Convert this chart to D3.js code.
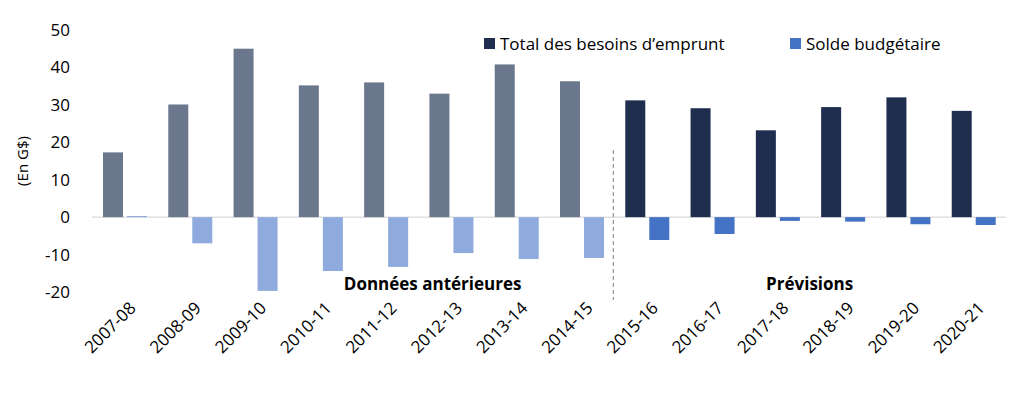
<!DOCTYPE html>
<html>
<head>
<meta charset="utf-8">
<script src="https://cdn.jsdelivr.net/npm/d3@7"></script>
<style>
  body { margin: 0; background: #fff; }
  text { font-family: "Open Sans", "Noto Sans", sans-serif; fill: #000; }
</style>
</head>
<body>
<script>
// years, values (G$)
var years = ["2007-08","2008-09","2009-10","2010-11","2011-12","2012-13","2013-14",
             "2014-15","2015-16","2016-17","2017-18","2018-19","2019-20","2020-21"];
var besoins = [17.3, 30.1, 45.0, 35.2, 36.0, 33.0, 40.8, 36.3, 31.2, 29.1, 23.2, 29.4, 32.0, 28.4];
var solde = [0.3, -7.0, -19.7, -14.4, -13.3, -9.6, -11.2, -10.9, -6.1, -4.5, -1.0, -1.2, -1.9, -2.1];
var nbHist = 8;
var yTicks = [-20, -10, 0, 10, 20, 30, 40, 50];

var W = 1021, H = 401;
var svg = d3.select("body").append("svg").attr("width", W).attr("height", H);

var x = d3.scaleBand().domain(years).range([92, 1006]);
var y = d3.scaleLinear().domain([-20, 50]).range([292, 30]);

// y axis labels
svg.selectAll(".yt").data(yTicks).enter().append("text")
  .attr("x", 70).attr("y", d => y(d)).attr("dy", "0.35em")
  .attr("text-anchor", "end").style("font-size", "17px").text(d => d);

svg.append("text").attr("transform", "translate(28," + y(15) + ") rotate(-90)")
  .attr("text-anchor", "middle").style("font-size", "15px").text("(En G$)");

// zero line
svg.append("line").attr("x1", 92).attr("x2", 1006)
  .attr("y1", y(0)).attr("y2", y(0)).attr("stroke", "#d0d0d0").attr("stroke-width", 1);

var bw = 20;
function col(i, s) {
  if (i < nbHist) return s ? "#8faadc" : "#6b778c";
  return s ? "#4472c4" : "#1f2e4e";
}

svg.selectAll(".b1").data(besoins).enter().append("rect")
  .attr("x", (d, i) => x(years[i]) + 11).attr("width", bw)
  .attr("y", d => y(Math.max(0, d))).attr("height", d => Math.abs(y(d) - y(0)))
  .attr("fill", (d, i) => col(i, false));

svg.selectAll(".b2").data(solde).enter().append("rect")
  .attr("x", (d, i) => x(years[i]) + 35).attr("width", bw)
  .attr("y", d => y(Math.max(0, d))).attr("height", d => Math.abs(y(d) - y(0)))
  .attr("fill", (d, i) => col(i, true));

// dashed separator
var sepX = x(years[nbHist]) - 1;
svg.append("line").attr("x1", sepX).attr("x2", sepX).attr("y1", 150).attr("y2", 300)
  .attr("stroke", "#7f7f7f").attr("stroke-dasharray", "4,3");

svg.append("text").attr("x", (92 + sepX) / 2 + 80).attr("y", 290).attr("text-anchor", "middle")
  .style("font-size", "17px").style("font-weight", "bold").text("Données antérieures");
svg.append("text").attr("x", (sepX + 1006) / 2).attr("y", 290).attr("text-anchor", "middle")
  .style("font-size", "17px").style("font-weight", "bold").text("Prévisions");

// x labels
svg.selectAll(".xt").data(years).enter().append("text")
  .attr("transform", d => "translate(" + (x(d) + x.bandwidth() / 2 + 8) + ",305) rotate(-45)")
  .attr("text-anchor", "end").attr("dy", "0.35em").style("font-size", "17px").text(d => d);

// legend
var leg = [["Total des besoins d\u2019emprunt", col(9, false), 484],
           ["Solde budgétaire", col(9, true), 790]];
leg.forEach(function (l) {
  svg.append("rect").attr("x", l[2]).attr("y", 38).attr("width", 11).attr("height", 11).attr("fill", l[1]);
  svg.append("text").attr("x", l[2] + 16).attr("y", 44).attr("dy", "0.35em")
    .style("font-size", "17px").text(l[0]);
});
</script>
</body>
</html>
